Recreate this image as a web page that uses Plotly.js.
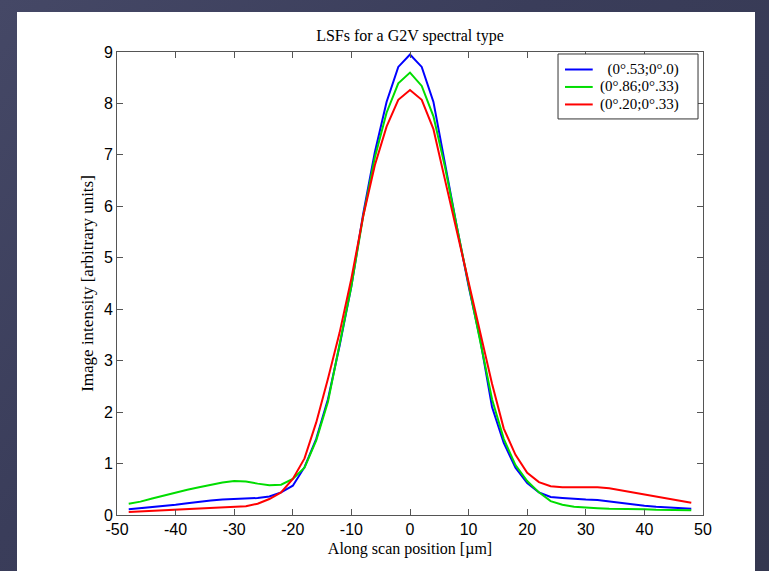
<!DOCTYPE html>
<html>
<head>
<meta charset="utf-8">
<script src="https://cdn.plot.ly/plotly-3.0.1.min.js"></script>
<style>
  html, body { margin: 0; padding: 0; width: 769px; height: 571px; overflow: hidden;
    background: linear-gradient(135deg, #454866 0%, #3a3d5a 40%, #34374f 100%); }
  #chart { position: absolute; left: 17px; top: 12px; width: 738px; height: 559px; background: #ffffff; }
</style>
</head>
<body>
<div id="chart"></div>
<script>
// Along-scan positions (µm)
const positions = [-48,-46,-44,-42,-40,-38,-36,-34,-32,-30,-28,-26,-24,-22,-20,-18,-16,-14,-12,-10,-8,-6,-4,-2,0,
                   2,4,6,8,10,12,14,16,18,20,22,24,26,28,30,32,34,36,38,40,42,44,46,48];

const seriesNames = [" (0°.53;0°.0)", "(0°.86;0°.33)", "(0°.20;0°.33)"];

const blueValues = [0.11,0.13,0.15,0.18,0.20,0.23,0.26,0.28,0.30,0.31,0.32,0.33,0.36,0.44,0.57,0.93,1.48,2.25,3.30,4.45,5.85,7.05,8.03,8.71,8.95,
                    8.71,8.03,6.80,5.60,4.45,3.40,2.10,1.40,0.92,0.62,0.44,0.35,0.33,0.31,0.30,0.29,0.26,0.23,0.20,0.18,0.16,0.15,0.13,0.12];

const greenValues = [0.22,0.26,0.32,0.38,0.43,0.49,0.54,0.59,0.63,0.66,0.65,0.61,0.58,0.59,0.70,0.92,1.45,2.20,3.30,4.45,5.80,6.95,7.82,8.39,8.60,
                     8.34,7.75,6.75,5.60,4.50,3.40,2.25,1.48,0.97,0.66,0.44,0.27,0.20,0.16,0.14,0.13,0.12,0.12,0.11,0.11,0.10,0.10,0.09,0.09];

const redValues = [0.06,0.07,0.08,0.10,0.11,0.12,0.13,0.14,0.15,0.16,0.17,0.22,0.31,0.44,0.70,1.10,1.80,2.65,3.55,4.60,5.80,6.80,7.55,8.07,8.26,
                   8.07,7.50,6.50,5.50,4.55,3.55,2.55,1.68,1.17,0.82,0.64,0.56,0.54,0.54,0.54,0.54,0.52,0.48,0.43,0.39,0.35,0.32,0.28,0.24];

const xTickValues = [-50,-40,-30,-20,-10,0,10,20,30,40,50];
const xTickLabels = ["-50","-40","-30","-20","-10","0","10","20","30","40","50"];
const yTickValues = [0,1,2,3,4,5,6,7,8,9];
const yTickLabels = ["0","1","2","3","4","5","6","7","8","9"];

const seriesColors = ["#0000ff", "#00dd00", "#ff0000"];
const allValues = [blueValues, greenValues, redValues];

const traces = allValues.map((vals, i) => ({
  x: positions,
  y: vals,
  type: "scatter",
  mode: "lines",
  name: seriesNames[i],
  showlegend: false,
  line: { color: seriesColors[i], width: 2 }
}));

const serif = "Liberation Serif, Times New Roman, serif";
const sans = "Liberation Sans, Arial, sans-serif";

const axisCommon = {
  showgrid: false,
  zeroline: false,
  showline: true,
  linecolor: "#555555",
  linewidth: 1,
  mirror: "allticks",
  ticks: "inside",
  ticklen: 6,
  tickcolor: "#555555",
  tickfont: { family: sans, size: 16, color: "#000000" }
};

// Legend drawn in plot-area (paper) fractions, MATLAB style
const legBox = { x0: 0.7526, x1: 0.9915, y0: 0.8554, y1: 0.9957 };
const legRows = [0.9622, 0.9245, 0.8867];
const legLineX = [0.7645, 0.8118];
const legTextX = 0.8200;

const shapes = [{
  type: "rect", xref: "paper", yref: "paper",
  x0: legBox.x0, x1: legBox.x1, y0: legBox.y0, y1: legBox.y1,
  line: { color: "#333333", width: 1 }, fillcolor: "#ffffff", layer: "above"
}];
seriesNames.forEach((nm, i) => {
  shapes.push({
    type: "line", xref: "paper", yref: "paper",
    x0: legLineX[0], x1: legLineX[1], y0: legRows[i], y1: legRows[i],
    line: { color: seriesColors[i], width: 2 }, layer: "above"
  });
});
const legendText = seriesNames
  .map(nm => '<span style="font-size:15px">' + nm.replace(/^ /, "\u00a0\u00a0") + '</span>')
  .join("<br>");
const annotations = [{
  xref: "paper", yref: "paper", x: legTextX, y: legRows[1],
  xanchor: "left", yanchor: "middle", align: "left", showarrow: false,
  text: legendText,
  font: { family: serif, size: 13.46, color: "#000000" }
}];

const layout = {
  width: 738,
  height: 559,
  margin: { l: 100, r: 52, t: 40, b: 56 },
  paper_bgcolor: "#ffffff",
  plot_bgcolor: "#ffffff",
  title: {
    text: "LSFs for a G2V spectral type",
    font: { family: serif, size: 16, color: "#000000" },
    x: 0.5, xref: "paper", xanchor: "center",
    y: 0.959, yref: "container", yanchor: "middle"
  },
  xaxis: Object.assign({}, axisCommon, {
    range: [-50, 50],
    tickvals: xTickValues,
    ticktext: xTickLabels,
    title: { text: "Along scan position [µm]", font: { family: serif, size: 16, color: "#000000" }, standoff: 5 }
  }),
  yaxis: Object.assign({}, axisCommon, {
    range: [0, 9],
    tickvals: yTickValues,
    ticktext: yTickLabels,
    title: { text: "Image intensity [arbitrary units]", font: { family: serif, size: 17, color: "#000000" }, standoff: 5 }
  }),
  showlegend: false,
  shapes: shapes,
  annotations: annotations
};

Plotly.newPlot("chart", traces, layout, { displayModeBar: false, staticPlot: true });
</script>
</body>
</html>
